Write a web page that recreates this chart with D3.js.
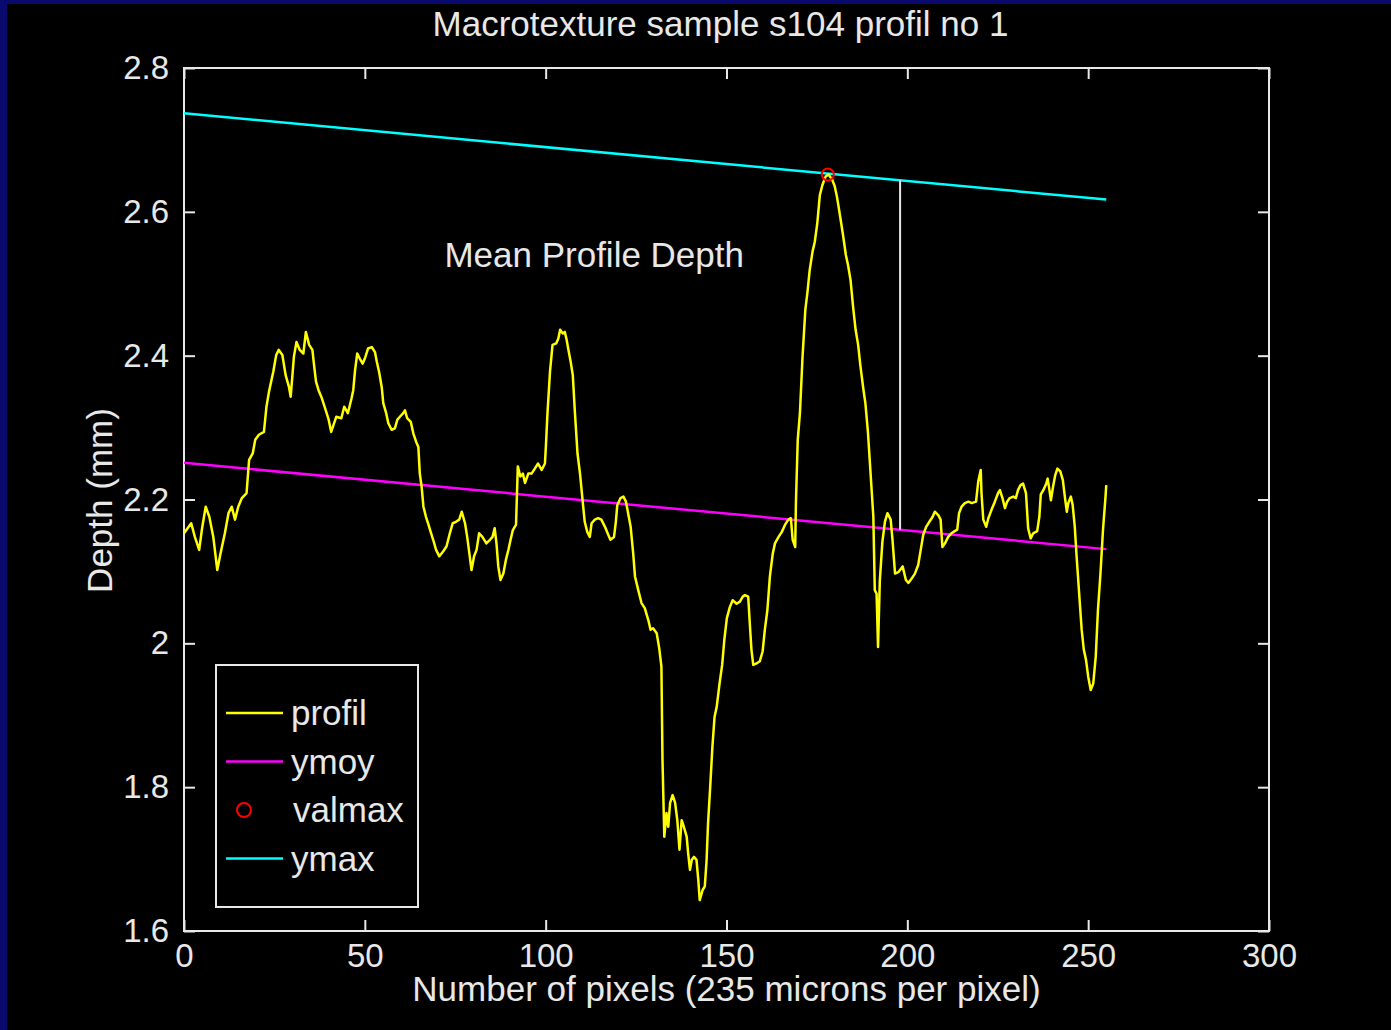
<!DOCTYPE html>
<html>
<head>
<meta charset="utf-8">
<script src="https://cdn.jsdelivr.net/npm/d3@7"></script>
<style>
  body { margin: 0; background: #000; }
  svg { display: block; }
  text { font-family: "Liberation Sans", Arial, sans-serif; fill: #e8e8e8; }
</style>
</head>
<body>
<div id="chart"></div>
<script>
// profile samples (pixel index, depth in mm)
var profilIdx = [0,1,2,3,4.2,5,6,7,8.1,9.2,10.1,11.3,12.3,13.2,14.1,15,16,17.3,18,19,19.7,20.7,22.1,22.8,23.5,24.7,25.5,26.2,27.2,28.1,29,29.5,30.4,31.1,32,33,33.7,34.6,35.5,36,36.5,37.2,38.1,39,40,40.7,41.3,42.1,43.5,44.3,45.3,46.3,46.8,47.3,47.9,48.6,49.4,50,50.9,51.9,52.8,53.3,54,54.7,55.1,55.9,56.5,57.4,58.3,59,59.7,60.6,61.1,61.7,62.7,63.4,64.2,64.8,65.2,65.7,66.2,66.9,67.6,68.2,68.9,69.7,70.6,71.7,72.6,73.5,74.3,75.2,76.1,76.8,77.7,78.3,78.9,79.5,80.2,80.9,81.6,82.5,83.6,84.6,85.3,85.9,86.4,86.9,87.5,88.3,89,89.7,90.3,90.9,91.8,92.3,93,93.7,94.3,95.2,96.1,97,97.9,98.9,99.8,100.1,100.5,101.2,101.9,102.9,103.5,104,104.7,105.3,105.8,106.3,106.9,107.5,108.1,108.8,109.5,110.2,110.8,111.5,112.2,112.7,113.6,114.5,115.4,116.4,117.3,117.9,118.9,119.4,119.8,120.7,121.5,122.2,122.8,123.5,124.2,124.7,125.6,126.5,127.4,128.4,129,129.7,130.7,131.4,132,132.3,132.8,133.4,133.9,134.4,135.1,135.8,136.4,137,137.6,138.2,139,139.4,139.9,140.4,141,141.7,142.2,142.6,143.4,144,144.5,144.9,145.5,146.1,146.7,147.3,148.1,148.8,149.4,150.1,150.9,151.7,152.8,153.7,154.5,155.1,156,156.5,156.9,157.4,158.3,159.2,160,160.6,161.3,162,162.8,163.4,164.4,165.3,166.2,167.1,167.8,168.3,169,169.2,169.7,170.3,171,171.8,172.4,173,173.8,174.4,175.1,175.8,176.5,177.4,178.2,179.2,179.9,180.5,180.9,181.5,182.3,183,183.6,184.3,185,185.7,186.4,187,187.8,188.4,189.1,189.8,190.6,191,191.5,191.9,192.4,193.1,193.8,194.5,195.4,195.9,196.6,197.5,198.7,199.6,200.3,201.2,202.1,203,203.7,204.4,205.2,206.1,207,207.6,208.6,209.2,209.7,210.4,211.3,212.2,213.1,213.8,214.3,215,215.9,216.9,217.8,219,219.6,220.3,220.5,221,221.8,222.4,223.3,224.2,225.1,225.6,226.3,227,227.6,228.3,229.3,230,230.6,231.3,232,232.8,233.4,234.1,234.8,235.9,236.5,236.9,237.6,238.4,238.8,239.3,239.7,240.3,240.9,241.5,242.3,243,243.6,244.1,244.5,245.2,245.7,246.3,246.8,247.5,248.2,248.8,249.4,250,250.7,251.4,252.1,252.7,253.4,254.1,254.8,255];
var profilDepth = [2.153,2.16,2.167,2.148,2.130,2.160,2.190,2.176,2.148,2.102,2.125,2.153,2.181,2.190,2.172,2.190,2.202,2.209,2.255,2.264,2.283,2.290,2.294,2.329,2.350,2.378,2.401,2.408,2.401,2.373,2.357,2.343,2.399,2.419,2.408,2.403,2.433,2.415,2.408,2.385,2.364,2.352,2.341,2.327,2.311,2.294,2.303,2.315,2.313,2.329,2.320,2.34,2.352,2.380,2.403,2.396,2.389,2.396,2.410,2.412,2.405,2.392,2.376,2.355,2.334,2.320,2.306,2.297,2.299,2.311,2.315,2.320,2.324,2.313,2.308,2.292,2.280,2.273,2.236,2.218,2.190,2.176,2.165,2.155,2.144,2.130,2.121,2.128,2.135,2.153,2.167,2.169,2.172,2.183,2.167,2.148,2.125,2.102,2.121,2.130,2.153,2.148,2.139,2.144,2.148,2.160,2.139,2.107,2.088,2.097,2.116,2.130,2.144,2.157,2.165,2.246,2.232,2.236,2.223,2.236,2.236,2.243,2.250,2.241,2.250,2.278,2.320,2.378,2.415,2.417,2.424,2.436,2.431,2.433,2.422,2.408,2.392,2.373,2.320,2.264,2.236,2.199,2.169,2.155,2.148,2.167,2.172,2.174,2.172,2.162,2.151,2.144,2.148,2.169,2.192,2.202,2.204,2.197,2.181,2.162,2.125,2.093,2.074,2.056,2.049,2.032,2.019,2.021,2.014,1.993,1.968,1.838,1.731,1.764,1.745,1.778,1.789,1.778,1.754,1.713,1.754,1.745,1.731,1.708,1.685,1.699,1.703,1.699,1.671,1.643,1.657,1.662,1.699,1.750,1.801,1.856,1.898,1.912,1.945,1.970,2.005,2.035,2.05,2.06,2.055,2.058,2.065,2.067,2.065,2.023,1.991,1.970,1.972,1.975,1.989,2.019,2.046,2.093,2.125,2.139,2.148,2.155,2.165,2.172,2.174,2.144,2.134,2.197,2.283,2.320,2.396,2.464,2.489,2.519,2.545,2.558,2.584,2.623,2.637,2.649,2.652,2.645,2.636,2.622,2.610,2.591,2.565,2.540,2.526,2.505,2.468,2.436,2.415,2.387,2.355,2.334,2.294,2.239,2.176,2.074,2.069,1.995,2.088,2.141,2.169,2.181,2.172,2.144,2.097,2.099,2.107,2.088,2.084,2.090,2.097,2.109,2.130,2.151,2.162,2.169,2.176,2.183,2.178,2.172,2.134,2.139,2.148,2.153,2.156,2.158,2.181,2.190,2.195,2.197,2.195,2.197,2.225,2.241,2.209,2.172,2.162,2.174,2.186,2.197,2.209,2.213,2.202,2.188,2.197,2.202,2.204,2.202,2.213,2.220,2.222,2.209,2.160,2.146,2.153,2.156,2.176,2.207,2.213,2.222,2.229,2.213,2.199,2.218,2.234,2.243,2.239,2.227,2.202,2.183,2.195,2.204,2.193,2.162,2.121,2.070,2.019,1.991,1.977,1.954,1.935,1.944,1.982,2.046,2.097,2.158,2.204,2.220];

var ymoyX = [0, 255];
var ymoyY = [2.251, 2.131];
var ymaxX = [0, 255];
var ymaxY = [2.737, 2.617];
var valmaxX = [178];
var valmaxY = [2.652];
var mpdX = 198;   // where the Mean Profile Depth bar is drawn

var xTicks = [0, 50, 100, 150, 200, 250, 300];
var yTicks = [1.6, 1.8, 2, 2.2, 2.4, 2.6, 2.8];

var legendLabels = ["profil", "ymoy", "valmax", "ymax"];
var legendColors = ["#ffff00", "#ff00ff", "#ff0000", "#00ffff"];

var W = 1391, H = 1030;
var margin = {top: 68, right: 122, bottom: 99, left: 184};
var width = W - margin.left - margin.right,
    height = H - margin.top - margin.bottom;

var svg = d3.select("#chart").append("svg").attr("width", W).attr("height", H);
svg.append("rect").attr("width", W).attr("height", H).attr("fill", "#000");
// navy frame on left and top
svg.append("rect").attr("x", 0).attr("y", 0).attr("width", 7).attr("height", H).attr("fill", "#0a0a6e");
svg.append("rect").attr("x", 0).attr("y", 0).attr("width", W).attr("height", 4).attr("fill", "#0a0a6e");

var g = svg.append("g").attr("transform", "translate(" + margin.left + "," + margin.top + ")");

var x = d3.scaleLinear().domain([0, 300]).range([0, width]);
var y = d3.scaleLinear().domain([1.6, 2.8]).range([height, 0]);
var fmt = d3.format("~g");

function styleAxis(sel, showText) {
  sel.select(".domain").remove();
  sel.selectAll(".tick line").attr("stroke", "#e8e8e8").attr("stroke-width", 2);
  sel.selectAll(".tick text").attr("font-size", 33).attr("fill", "#e8e8e8");
  if (!showText) sel.selectAll(".tick text").remove();
}

g.append("g").attr("transform", "translate(0," + height + ")")
  .call(d3.axisBottom(x).tickValues(xTicks).tickFormat(fmt).tickSizeInner(-11).tickSizeOuter(0).tickPadding(13))
  .call(styleAxis, true);
g.append("g")
  .call(d3.axisTop(x).tickValues(xTicks).tickSizeInner(-11).tickSizeOuter(0))
  .call(styleAxis, false);
g.append("g")
  .call(d3.axisLeft(y).tickValues(yTicks).tickFormat(fmt).tickSizeInner(-11).tickSizeOuter(0).tickPadding(15))
  .call(styleAxis, true);
g.append("g").attr("transform", "translate(" + width + ",0)")
  .call(d3.axisRight(y).tickValues(yTicks).tickSizeInner(-11).tickSizeOuter(0))
  .call(styleAxis, false);

g.append("rect").attr("width", width).attr("height", height)
  .attr("fill", "none").attr("stroke", "#e8e8e8").attr("stroke-width", 2);

var line = d3.line().x(function(d) { return x(d[0]); }).y(function(d) { return y(d[1]); });

// ymax and ymoy lines
g.append("path").datum(d3.zip(ymaxX, ymaxY)).attr("d", line)
  .attr("fill", "none").attr("stroke", "#00ffff").attr("stroke-width", 2.5);
g.append("path").datum(d3.zip(ymoyX, ymoyY)).attr("d", line)
  .attr("fill", "none").attr("stroke", "#ff00ff").attr("stroke-width", 2.5);

// the profile
g.append("path").datum(d3.zip(profilIdx, profilDepth)).attr("d", line)
  .attr("fill", "none").attr("stroke", "#ffff00").attr("stroke-width", 2.5)
  .attr("stroke-linejoin", "round");

// valmax marker
g.selectAll(".valmax").data(d3.zip(valmaxX, valmaxY)).enter().append("circle")
  .attr("cx", function(d) { return x(d[0]); })
  .attr("cy", function(d) { return y(d[1]); })
  .attr("r", 6).attr("fill", "none").attr("stroke", "#ff0000").attr("stroke-width", 2);

// Mean Profile Depth bar between the two fitted lines
function atX(xs, ys, xv) { return ys[0] + (ys[1] - ys[0]) * (xv - xs[0]) / (xs[1] - xs[0]); }
g.append("line")
  .attr("x1", x(mpdX)).attr("x2", x(mpdX))
  .attr("y1", y(atX(ymaxX, ymaxY, mpdX))).attr("y2", y(atX(ymoyX, ymoyY, mpdX)))
  .attr("stroke", "#e8e8e8").attr("stroke-width", 2);

g.append("text").attr("x", x(72)).attr("y", y(2.54)).attr("dy", "0.35em")
  .attr("font-size", 35).text("Mean Profile Depth");

// title and axis labels
svg.append("text").attr("x", margin.left + width / 2 - 6).attr("y", 36)
  .attr("text-anchor", "middle").attr("font-size", 35)
  .text("Macrotexture sample s104 profil no 1");
svg.append("text").attr("x", margin.left + width / 2).attr("y", 1001)
  .attr("text-anchor", "middle").attr("font-size", 35)
  .text("Number of pixels (235 microns per pixel)");
svg.append("text").attr("transform", "translate(112," + (margin.top + height / 2 + 1) + ") rotate(-90)")
  .attr("text-anchor", "middle").attr("font-size", 35)
  .text("Depth (mm)");

// legend
var leg = svg.append("g").attr("transform", "translate(216,665)");
leg.append("rect").attr("width", 202).attr("height", 242)
  .attr("fill", "#000").attr("stroke", "#e8e8e8").attr("stroke-width", 2);
var item = leg.selectAll(".item").data(legendLabels).enter().append("g")
  .attr("transform", function(d, i) { return "translate(0," + (48 + i * 48.5) + ")"; });
item.each(function(d, i) {
  var s = d3.select(this);
  if (d == "valmax") {
    s.append("circle").attr("cx", 28).attr("cy", 0).attr("r", 7)
      .attr("fill", "none").attr("stroke", legendColors[i]).attr("stroke-width", 2);
  } else {
    s.append("line").attr("x1", 10).attr("x2", 67).attr("y1", 0).attr("y2", 0)
      .attr("stroke", legendColors[i]).attr("stroke-width", 2.5);
  }
});
item.append("text").attr("x", function(d) { return d == "valmax" ? 77 : 75; }).attr("dy", "0.35em")
  .attr("font-size", 35).text(function(d) { return d; });
</script>
</body>
</html>
